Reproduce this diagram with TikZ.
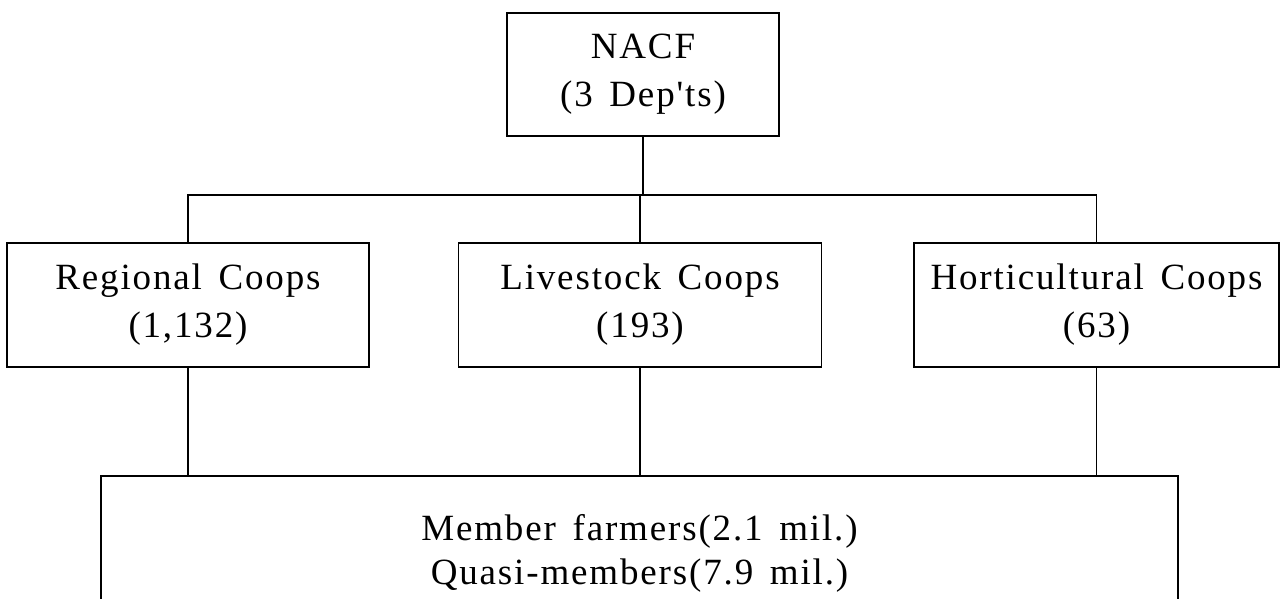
\documentclass[tikz,border=0pt]{standalone}
\usepackage{fontspec}
\newfontfamily\boxfont[LetterSpace=5,WordSpace=1.5]{Liberation Serif}
\begin{document}
\begin{tikzpicture}[x=1pt,y=-1pt,
  line width=1.1pt,
  orgbox/.style={draw, rectangle, inner sep=0pt, align=center,
    font=\boxfont\fontsize{37}{48}\selectfont},
  link/.style={draw, line width=1.1pt}]
\useasboundingbox (0,0) rectangle (1281,598);
\clip (0,0) rectangle (1281,598);
\node[orgbox, minimum width=272, minimum height=123] (nacf) at (643,74.5) {NACF\\(3 Dep'ts)};
\node[orgbox, minimum width=362, minimum height=124] (reg) at (188,305) {Regional Coops\\(1,132)};
\node[orgbox, minimum width=363, minimum height=124] (liv) at (640,305) {Livestock Coops\\(193)};
\node[orgbox, minimum width=365, minimum height=124] (hor) at (1096.5,305) {Horticultural Coops\\(63)};
\node[orgbox, minimum width=1077, minimum height=155, font=\boxfont\fontsize{37}{44}\selectfont] (mem) at (639.5,553.5) {Member farmers(2.1 mil.)\\Quasi-members(7.9 mil.)};
\coordinate (bus) at (0,195);
\draw[link] (nacf.south) -- (nacf.south |- bus);
\draw[link] (reg.north) -- (reg.north |- bus) -- (hor.north |- bus) -- (hor.north);
\draw[link] (liv.north) -- (liv.north |- bus);
\draw[link] (reg.south) -- (reg.south |- mem.north);
\draw[link] (liv.south) -- (liv.south |- mem.north);
\draw[link] (hor.south) -- (hor.south |- mem.north);
\end{tikzpicture}
\end{document}
